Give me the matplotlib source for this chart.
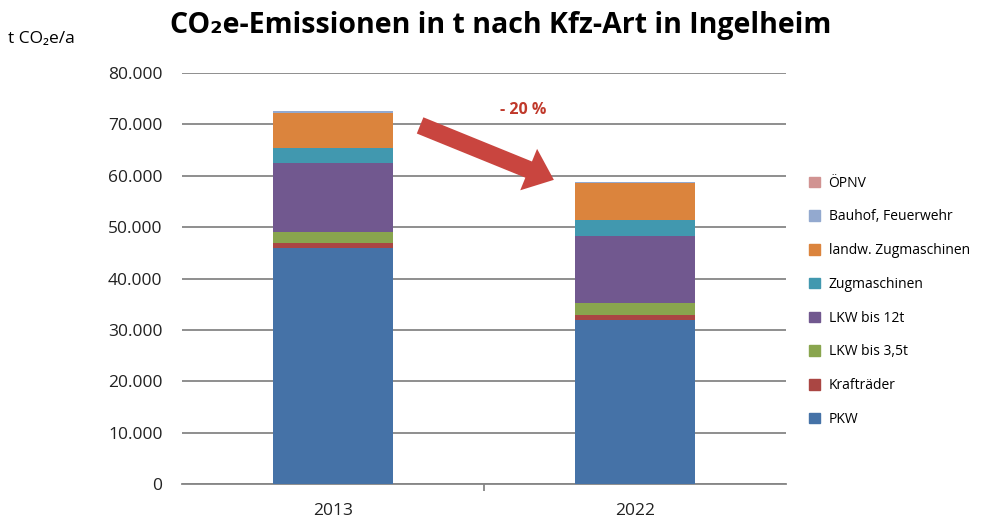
import matplotlib
matplotlib.use("Agg")
import matplotlib.pyplot as plt
from matplotlib.ticker import FuncFormatter
from matplotlib.patches import Patch

# ── data ───────────────────────────────────────────────────────────────────────
years = ["2013", "2022"]
categories = ["PKW", "Krafträder", "LKW bis 3,5t", "LKW bis 12t",
              "Zugmaschinen", "landw. Zugmaschinen", "Bauhof, Feuerwehr", "ÖPNV"]
values = {
    "PKW":                 [46000, 32000],
    "Krafträder":          [1000, 800],
    "LKW bis 3,5t":        [2000, 2400],
    "LKW bis 12t":         [13400, 13000],
    "Zugmaschinen":        [3000, 3100],
    "landw. Zugmaschinen": [6800, 7200],
    "Bauhof, Feuerwehr":   [350, 200],
    "ÖPNV":                [100, 100],
}
colors = ["#4572A7", "#AA4643", "#89A54E", "#71588F",
          "#4198AF", "#DB843D", "#93A9CF", "#D19392"]

FONT = ["Open Sans", "DejaVu Sans"]
plt.rcParams["font.family"] = FONT

fig = plt.figure(figsize=(10.02, 5.24), dpi=100)
ax = fig.add_axes([0.1816, 0.0763, 0.6028, 0.7844])

x = range(len(years))
bottom = [0, 0]
for cat, col in zip(categories, colors):
    vals = values[cat]
    ax.bar(x, vals, bottom=bottom, width=0.4, color=col, zorder=3)
    bottom = [b + v for b, v in zip(bottom, vals)]

ax.set_xlim(-0.5, 1.5)
ax.set_ylim(0, 80000)
ax.set_yticks(range(0, 80001, 10000))
ax.yaxis.set_major_formatter(FuncFormatter(lambda v, p: f"{int(v):,}".replace(",", ".")))
ax.set_xticks(list(x))
ax.set_xticklabels(years)
ax.set_xticks([0.5], minor=True)
ax.grid(axis="y", color="#868686", linewidth=1.3, zorder=0)
for s in ("top", "right", "left"):
    ax.spines[s].set_visible(False)
ax.spines["bottom"].set_color("#868686")
ax.spines["bottom"].set_linewidth(1.3)
ax.tick_params(axis="both", which="major", length=0, labelsize=12.5, colors="#222222")
ax.tick_params(axis="x", which="minor", length=5, width=1.3, color="#868686", direction="out")
ax.tick_params(axis="y", pad=14)
ax.tick_params(axis="x", pad=14)

# ── arrow + percentage ──
ax.annotate("", xy=(0.74, 59000), xytext=(0.28, 70000),
            arrowprops=dict(arrowstyle="simple,head_length=1.4,head_width=2.3,tail_width=0.9",
                            mutation_scale=14, color="#C9453F", lw=0))
ax.text(0.63, 72800, "- 20 %", color="#C0392B", fontsize=11.5, fontweight="bold",
        ha="center", va="center")

# ── title + unit ──
fig.text(0.50, 0.952, "CO₂e-Emissionen in t nach Kfz-Art in Ingelheim",
         ha="center", va="center", fontsize=20.5, fontweight="bold")
fig.text(0.008, 0.925, "t CO₂e/a", ha="left", va="center", fontsize=12.5)

# ── legend ──
handles = [Patch(color=c, label=l) for l, c in zip(categories, colors)][::-1]
fig.legend(handles=handles, loc="center left", bbox_to_anchor=(0.795, 0.425),
           frameon=False, fontsize=10, handlelength=0.8, handleheight=0.8,
           labelspacing=1.35, handletextpad=0.6)

plt.savefig("out.png", dpi=100, facecolor="white")
